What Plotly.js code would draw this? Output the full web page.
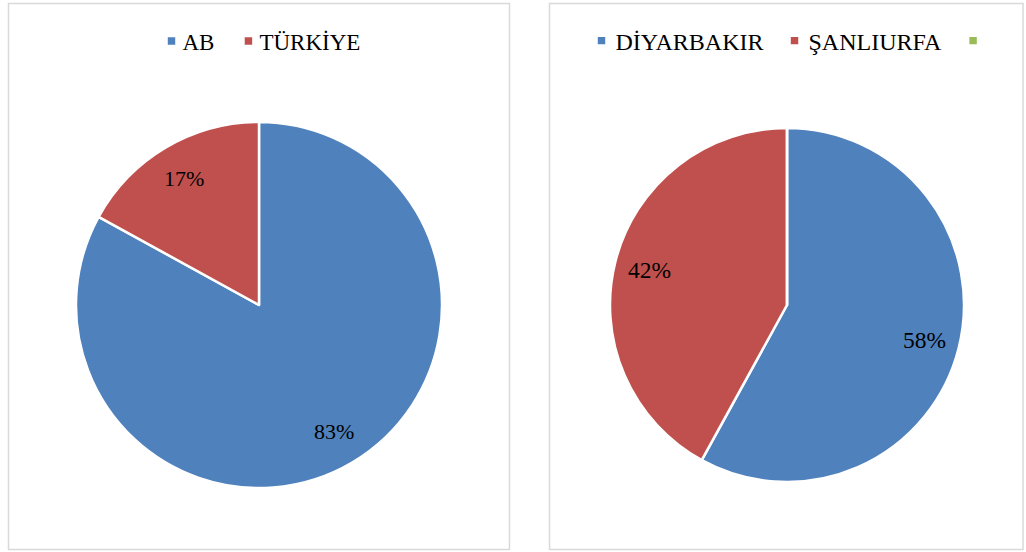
<!DOCTYPE html>
<html>
<head>
<meta charset="utf-8">
<script src="https://cdn.plot.ly/plotly-3.0.1.min.js"></script>
<style>html,body{margin:0;padding:0;background:#fff;}#chart{width:1026px;height:552px;}</style>
</head>
<body>
<div id="chart"></div>
<script>
// Data
const leftLabels = ['AB', 'TÜRKİYE'];
const leftValues = [83, 17];
const rightLabels = ['DİYARBAKIR', 'ŞANLIURFA', ' '];
const rightValues = [58, 42, 0];
const colors = ['#4F81BD', '#C0504D', '#9BBB59'];

const FONT = '"Liberation Serif", "Times New Roman", serif';
const W = 1026, H = 552;
function px(x){ return x / W; }
function py(y){ return 1 - y / H; }

const leftDomain = {x: [px(76), px(442)], y: [py(488), py(122)]};
const rightDomain = {x: [px(610), px(964)], y: [py(482), py(128)]};

function pieTrace(labels, values, domain, legendId) {
  return {
    type: 'pie', labels: labels, values: values, sort: false,
    direction: 'clockwise', rotation: 0,
    marker: {colors: colors, line: {color: '#ffffff', width: 2.5}},
    textinfo: 'none', textposition: 'none',
    hoverinfo: 'label+percent',
    domain: domain, legend: legendId
  };
}

// Percent labels placed along each slice's mid-angle (Excel-style, ~0.8 radius)
function sliceLabels(values, domain, fontSize) {
  const total = values.reduce((a, b) => a + b, 0);
  const cx = (domain.x[0] + domain.x[1]) / 2 * W;
  const cy = (1 - (domain.y[0] + domain.y[1]) / 2) * H;
  const r = Math.min((domain.x[1] - domain.x[0]) * W, (domain.y[1] - domain.y[0]) * H) / 2;
  const out = [];
  let cum = 0;
  values.forEach(v => {
    if (v > 0) {
      const a = 2 * Math.PI * (cum + v / 2) / total;
      const x = cx + 0.8 * r * Math.sin(a);
      const y = cy - 0.8 * r * Math.cos(a);
      out.push({
        xref: 'paper', yref: 'paper', x: x / W, y: 1 - y / H,
        xanchor: 'center', yanchor: 'middle', showarrow: false,
        text: Math.round(100 * v / total) + '%',
        font: {family: FONT, size: fontSize, color: '#000'}
      });
    }
    cum += v;
  });
  return out;
}

const traces = [
  pieTrace(leftLabels, leftValues, leftDomain, 'legend'),
  pieTrace(rightLabels, rightValues, rightDomain, 'legend2')
];

const legendCommon = {
  orientation: 'h', xanchor: 'center', yanchor: 'middle',
  bgcolor: 'rgba(0,0,0,0)', itemclick: false, itemdoubleclick: false
};

const layout = {
  width: W, height: H,
  margin: {l: 0, r: 0, t: 0, b: 0},
  paper_bgcolor: '#fff', plot_bgcolor: '#fff',
  showlegend: true,
  legend: Object.assign({}, legendCommon, {x: px(257), y: py(41), font: {family: FONT, size: 23, color: '#000'}}),
  legend2: Object.assign({}, legendCommon, {x: px(787), y: py(41), font: {family: FONT, size: 24, color: '#000'}}),
  annotations: sliceLabels(leftValues, leftDomain, 22).concat(sliceLabels(rightValues, rightDomain, 23.5)),
  shapes: [
    {type: 'rect', xref: 'paper', yref: 'paper', x0: px(8.5), x1: px(509.5), y0: py(549.5), y1: py(3.5),
     line: {color: '#d9d9d9', width: 1.5}, fillcolor: 'rgba(0,0,0,0)', layer: 'below'},
    {type: 'rect', xref: 'paper', yref: 'paper', x0: px(549.5), x1: px(1023), y0: py(549.5), y1: py(3.5),
     line: {color: '#d9d9d9', width: 1.5}, fillcolor: 'rgba(0,0,0,0)', layer: 'below'}
  ]
};

Plotly.newPlot('chart', traces, layout, {displayModeBar: false, staticPlot: true}).then(gd => {
  // Smaller legend squares, closer to their text (Excel style)
  gd.querySelectorAll('.legendpoints path').forEach(p => {
    p.setAttribute('transform', 'translate(26,0) scale(0.62)');
    p.style.strokeWidth = '0px';
  });
  gd.querySelectorAll('.legendtext').forEach(t => {
    t.setAttribute('x', '37');
  });
});
</script>
</body>
</html>
